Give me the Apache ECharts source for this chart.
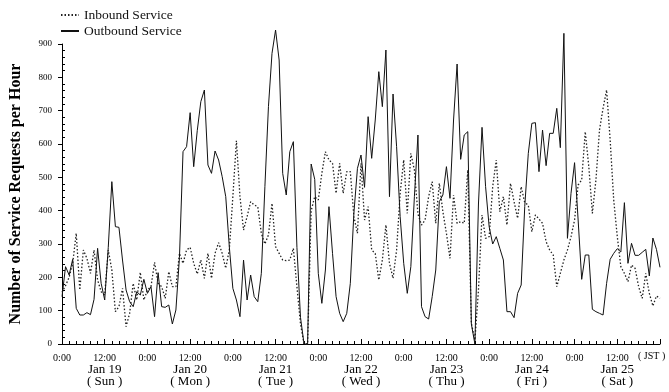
<!DOCTYPE html>
<html><head><meta charset="utf-8">
<script src="https://cdn.jsdelivr.net/npm/echarts@6/dist/echarts.min.js"></script>
<style>html,body{margin:0;padding:0;background:#fff}#c{width:669px;height:392px}</style>
</head><body><div id="c"></div>
<script>
// Hourly values, Jan 19 0:00 (JST) onward
const inbound = [155,175,200,242,332,162,282,257,212,282,192,157,147,282,222,97,112,167,52,92,182,132,215,132,
162,172,245,182,172,137,217,172,172,272,242,282,290,242,210,252,197,272,197,272,304,272,227,282,
442,610,442,342,382,427,417,412,332,300,327,422,292,272,252,250,252,287,172,60,0,0,400,442,
432,512,577,552,542,452,542,452,517,517,382,332,542,372,412,282,272,192,252,357,242,197,282,452,
552,392,572,522,390,357,372,442,487,362,482,397,332,257,447,362,367,362,522,62,12,162,387,317,
322,472,552,397,442,357,482,427,377,472,424,417,337,387,375,362,307,282,267,172,212,252,282,322,
372,477,492,637,532,392,492,642,707,762,612,432,322,232,212,187,237,227,172,137,212,152,114,144,137];
const outbound = [142,232,207,254,107,87,87,94,88,134,287,182,132,290,487,352,350,252,162,127,112,157,147,194,
152,172,82,214,112,110,117,60,102,260,577,592,694,532,640,727,762,537,512,579,552,502,442,292,
167,132,82,252,132,207,142,127,212,472,712,872,942,852,512,447,577,607,290,80,0,0,540,494,
212,122,222,412,272,142,92,67,92,182,392,527,567,470,682,557,672,817,712,882,442,750,592,382,
242,152,232,442,627,112,82,75,142,222,427,447,532,437,672,840,554,627,637,60,0,420,650,472,
352,300,322,287,252,97,97,79,152,177,412,572,662,664,517,642,535,632,632,707,589,932,317,452,
544,372,194,267,267,104,97,92,87,182,254,272,286,276,424,242,302,266,266,275,284,204,318,284,230];
const days = ['Jan 19','Jan 20','Jan 21','Jan 22','Jan 23','Jan 24','Jan 25'];
const weekdays = ['Sun','Mon','Tue','Wed','Thu','Fri','Sat'];
const hourLabels = ['0:00','12:00'];
const seriesNames = ['Inbound Service','Outbound Service'];
const yTitle = 'Number of Service Requests per Hour';
const tzLabel = '( JST )';

const FONT = "'Liberation Serif','Times New Roman',serif";
const toPairs = arr => arr.map((v,i)=>[i,v]);

const chart = echarts.init(document.getElementById('c'), null, {renderer:'canvas'});
chart.setOption({
  animation:false,
  backgroundColor:'#fff',
  textStyle:{fontFamily:FONT,color:'#000'},
  legend:{
    orient:'vertical', left:55, top:3, itemWidth:18, itemHeight:10, itemGap:2,
    itemStyle:{opacity:0},
    textStyle:{fontFamily:FONT,fontSize:13.5,color:'#111'},
    data:seriesNames
  },
  grid:{left:61,right:9,top:44,bottom:48,containLabel:false},
  xAxis:{
    type:'value', min:0, max:168, interval:12,
    axisLine:{lineStyle:{color:'#000',width:1}},
    axisTick:{inside:true,length:5,lineStyle:{color:'#000'}},
    minorTick:{show:true,splitNumber:6,length:3,lineStyle:{color:'#000'}},
    splitLine:{show:false},
    axisLabel:{
      margin:8, color:'#000', fontFamily:FONT, showMaxLabel:true,
      formatter:function(v){
        if(v>=168) return '';
        const d=Math.floor(v/24);
        if(v%24===12) return '{t|'+hourLabels[1]+'}\n{d|'+days[d]+'}\n{d|( '+weekdays[d]+' )}';
        return '{t|'+hourLabels[0]+'}';
      },
      rich:{
        t:{fontFamily:FONT,fontSize:10,lineHeight:12,color:'#000'},
        d:{fontFamily:FONT,fontSize:13,lineHeight:12,color:'#000'}
      }
    }
  },
  yAxis:{
    type:'value', min:0, max:900, interval:100,
    name:yTitle, nameLocation:'middle', nameGap:38,
    nameTextStyle:{fontFamily:FONT,fontSize:16,fontWeight:'bold',color:'#000'},
    axisLine:{show:true,lineStyle:{color:'#000',width:1}},
    axisTick:{show:true,inside:false,length:4,lineStyle:{color:'#000'}},
    minorTick:{show:true,splitNumber:5,length:-3,lineStyle:{color:'#000'}},
    splitLine:{show:false},
    axisLabel:{margin:10,fontFamily:FONT,fontSize:9,color:'#000'}
  },
  series:[
    {name:seriesNames[0],type:'line',data:toPairs(inbound),symbol:'none',clip:false,
     lineStyle:{color:'#222',width:1.3,type:[1.5,2]},itemStyle:{color:'#222'}},
    {name:seriesNames[1],type:'line',data:toPairs(outbound),symbol:'none',clip:false,
     lineStyle:{color:'#111',width:1},itemStyle:{color:'#111'}}
  ],
  graphic:[{type:'text',left:638,top:351,style:{text:tzLabel,font:'10px '+FONT,fill:'#000'}}]
});
</script>
</body></html>
